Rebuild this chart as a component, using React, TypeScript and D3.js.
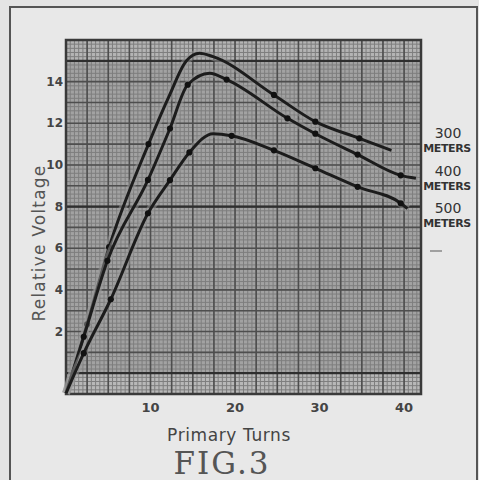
import React from "react";
import * as d3 from "d3";

const turns300 = [0, 2.5, 5.1, 9.76, 12.2, 14.25, 15.8, 17.4, 24.6, 29.5, 34.7, 38.5];
const volts300 = [-0.97, 2.35, 6.05, 11.0, 13.3, 15.0, 15.36, 15.2, 13.36, 12.08, 11.28, 10.7];
const dots300 = [2.5, 5.1, 9.76, 24.6, 29.5, 34.7];

const turns400 = [0, 2.1, 4.9, 9.7, 12.3, 14.4, 17.0, 19.0, 26.2, 29.5, 34.5, 39.6, 41.4];
const volts400 = [-0.97, 1.75, 5.4, 9.28, 11.75, 13.85, 14.4, 14.1, 12.24, 11.5, 10.5, 9.5, 9.36];
const dots400 = [2.1, 4.9, 9.7, 12.3, 14.4, 19.0, 26.2, 29.5, 34.5, 39.6];

const turns500 = [0, 2.1, 5.3, 9.7, 12.3, 14.6, 17.4, 19.6, 24.6, 29.5, 34.5, 39.6, 40.4];
const volts500 = [-0.97, 0.96, 3.55, 7.68, 9.27, 10.6, 11.5, 11.4, 10.7, 9.84, 8.95, 8.16, 7.9];
const dots500 = [2.1, 5.3, 9.7, 12.3, 14.6, 19.6, 24.6, 29.5, 34.5, 39.6];

const xTicks = [10, 20, 30, 40];
const yTicks = [2, 4, 6, 8, 10, 12, 14];
const seriesNames = ["300", "400", "500"];
const seriesLabelV = [11.29, 9.47, 7.69];
const seriesUnit = "METERS";

export default function App() {
  const W = 479, H = 480;
  const L = 66, R = 421, T = 40, B = 394;
  const x = d3.scaleLinear().domain([0, 42]).range([L, R]);
  const y = d3.scaleLinear().domain([-1, 16]).range([B, T]);

  const minorX = d3.range(0, 42.01, 0.5);
  const minorY = d3.range(-1, 16.01, 0.2);
  const majorX = d3.range(0, 42.01, 2.5);
  const majorY = d3.range(-1, 16.01, 1);
  const heavyY = [0, 8, 15];

  const line = d3
    .line<[number, number]>()
    .x((d) => x(d[0]))
    .y((d) => y(d[1]))
    .curve(d3.curveMonotoneX);

  const series = [
    { t: turns300, v: volts300, dots: dots300 },
    { t: turns400, v: volts400, dots: dots400 },
    { t: turns500, v: volts500, dots: dots500 },
  ];

  const interp = (t: number[], v: number[], q: number) => {
    for (let i = 0; i < t.length - 1; i++) {
      if (q >= t[i] && q <= t[i + 1]) {
        const f = (q - t[i]) / (t[i + 1] - t[i]);
        return v[i] + f * (v[i + 1] - v[i]);
      }
    }
    return v[v.length - 1];
  };

  const font = "'DejaVu Sans', sans-serif";

  return (
    <svg
      width={W}
      height={H}
      style={{ position: "absolute", left: 0, top: 0, background: "#e4e4e4" }}
    >
      <rect x={0} y={0} width={W} height={H} fill="#e4e4e4" />
      <rect x={10} y={7} width={467} height={478} fill="#e8e8e8" stroke="#555" strokeWidth={2} />

      <rect x={L} y={T} width={R - L} height={B - T} fill="#a2a2a2" />
      <rect x={L} y={y(0)} width={R - L} height={B - y(0)} fill="#b8b8b8" />
      <rect x={L} y={T} width={R - L} height={y(15) - T} fill="#b4b4b4" />

      <g>
        {minorX.map((d, i) => (
          <line key={"mx" + i} x1={x(d)} x2={x(d)} y1={T} y2={B} stroke="#7e7e7e" strokeWidth={1} />
        ))}
        {minorY.map((d, i) => (
          <line key={"my" + i} x1={L} x2={R} y1={y(d)} y2={y(d)} stroke="#7e7e7e" strokeWidth={1} />
        ))}
        {majorX.map((d, i) => (
          <line key={"Mx" + i} x1={x(d)} x2={x(d)} y1={T} y2={B} stroke="#4e4e4e" strokeWidth={1.6} />
        ))}
        {majorY.map((d, i) => (
          <line key={"My" + i} x1={L} x2={R} y1={y(d)} y2={y(d)} stroke="#4e4e4e" strokeWidth={1.6} />
        ))}
        {heavyY.map((d, i) => (
          <line key={"Hy" + i} x1={L} x2={R} y1={y(d)} y2={y(d)} stroke="#2e2e2e" strokeWidth={2.2} />
        ))}
      </g>
      <rect x={L} y={T} width={R - L} height={B - T} fill="none" stroke="#3a3a3a" strokeWidth={2.5} />

      {series.map((s, i) => {
        const pts = s.t.map((t, j) => [t, s.v[j]] as [number, number]);
        return (
          <g key={"s" + i}>
            <path d={line(pts) || ""} fill="none" stroke="#9a9a9a" strokeWidth={8} strokeOpacity={0.5} />
            <path d={line(pts) || ""} fill="none" stroke="#1c1c1c" strokeWidth={3} strokeLinejoin="round" />
            {s.dots.map((q, k) => (
              <circle key={k} cx={x(q)} cy={y(interp(s.t, s.v, q))} r={3.1} fill="#111" />
            ))}
          </g>
        );
      })}

      {yTicks.map((d) => (
        <text
          key={"yt" + d}
          x={63}
          y={y(d)}
          dy="0.35em"
          textAnchor="end"
          fontFamily={font}
          fontSize={12}
          fontWeight="bold"
          fill="#444"
        >
          {d}
        </text>
      ))}
      {xTicks.map((d) => (
        <text
          key={"xt" + d}
          x={x(d)}
          y={412}
          textAnchor="middle"
          fontFamily={font}
          fontSize={13}
          fontWeight="bold"
          fill="#444"
        >
          {d}
        </text>
      ))}

      <text
        transform={`translate(45, 243) rotate(-90)`}
        textAnchor="middle"
        fontFamily={font}
        fontSize={17}
        letterSpacing={1.2}
        fill="#555"
      >
        Relative Voltage
      </text>
      <text x={229} y={441} textAnchor="middle" fontFamily={font} fontSize={17} letterSpacing={0.6} fill="#444">
        Primary Turns
      </text>
      <text x={222} y={474} textAnchor="middle" fontFamily="'DejaVu Serif', serif" fontSize={31} fill="#555" letterSpacing={2}>
        FIG.3
      </text>

      {seriesNames.map((n, i) => (
        <g key={"lab" + i}>
          <text x={448} y={y(seriesLabelV[i])} textAnchor="middle" fontFamily={font} fontSize={14} fill="#333">
            {n}
          </text>
          <text x={447} y={y(seriesLabelV[i]) + 14} textAnchor="middle" fontFamily={font} fontSize={11} fontWeight="bold" fill="#333" letterSpacing={-0.4}>
            {seriesUnit}
          </text>
        </g>
      ))}
      <line x1={430} x2={442} y1={251} y2={251} stroke="#888" strokeWidth={1.5} />
    </svg>
  );
}
